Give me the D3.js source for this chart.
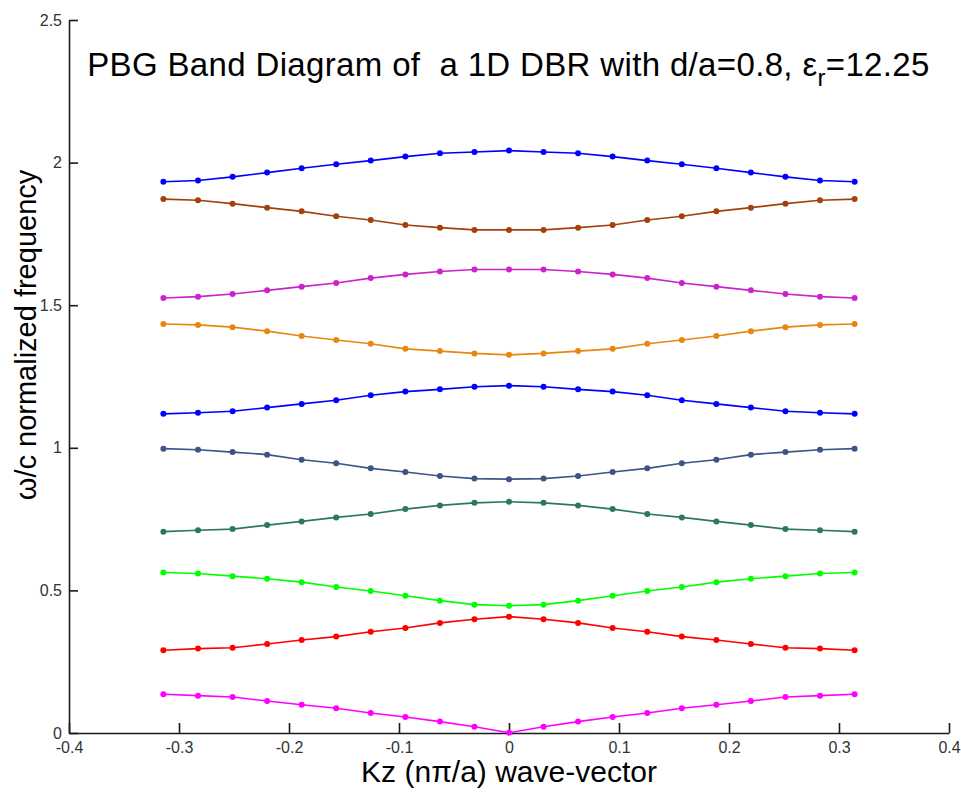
<!DOCTYPE html>
<html>
<head>
<meta charset="utf-8">
<script src="https://cdn.jsdelivr.net/npm/d3@7"></script>
<style>
html,body{margin:0;padding:0;background:#fff;}
svg{display:block;font-family:"Liberation Sans",Arial,sans-serif;}
</style>
</head>
<body>
<svg id="chart" width="961" height="793"></svg>
<script>
const kz = [-0.3142,-0.2827,-0.2513,-0.2199,-0.1885,-0.1571,-0.1257,-0.0942,-0.0628,-0.0314,0,
             0.0314,0.0628,0.0942,0.1257,0.1571,0.1885,0.2199,0.2513,0.2827,0.3142];

const band1  = [0.136,0.131,0.126,0.112,0.099,0.087,0.070,0.056,0.040,0.022,0.001,0.022,0.040,0.056,0.070,0.087,0.099,0.112,0.126,0.131,0.136];
const band2  = [0.290,0.296,0.299,0.312,0.326,0.338,0.355,0.368,0.386,0.399,0.408,0.399,0.386,0.368,0.355,0.338,0.326,0.312,0.299,0.296,0.290];
const band3  = [0.563,0.559,0.550,0.541,0.529,0.512,0.498,0.481,0.464,0.450,0.446,0.450,0.464,0.481,0.498,0.512,0.529,0.541,0.550,0.559,0.563];
const band4  = [0.706,0.711,0.715,0.729,0.742,0.756,0.768,0.785,0.798,0.807,0.811,0.807,0.798,0.785,0.768,0.756,0.742,0.729,0.715,0.711,0.706];
const band5  = [0.997,0.993,0.985,0.976,0.958,0.946,0.928,0.915,0.901,0.892,0.890,0.892,0.901,0.915,0.928,0.946,0.958,0.976,0.985,0.993,0.997];
const band6  = [1.119,1.123,1.128,1.141,1.154,1.167,1.184,1.197,1.205,1.214,1.218,1.214,1.205,1.197,1.184,1.167,1.154,1.141,1.128,1.123,1.119];
const band7  = [1.434,1.431,1.423,1.409,1.392,1.378,1.365,1.347,1.339,1.331,1.326,1.331,1.339,1.347,1.365,1.378,1.392,1.409,1.423,1.431,1.434];
const band8  = [1.525,1.530,1.539,1.552,1.565,1.578,1.595,1.608,1.618,1.625,1.625,1.625,1.618,1.608,1.595,1.578,1.565,1.552,1.539,1.530,1.525];
const band9  = [1.872,1.868,1.856,1.842,1.829,1.812,1.799,1.781,1.772,1.764,1.764,1.764,1.772,1.781,1.799,1.812,1.829,1.842,1.856,1.868,1.872];
const band10 = [1.933,1.937,1.950,1.965,1.980,1.994,2.007,2.021,2.033,2.037,2.042,2.037,2.033,2.021,2.007,1.994,1.980,1.965,1.950,1.937,1.933];

const bands = [band1,band2,band3,band4,band5,band6,band7,band8,band9,band10];
const colors = ["#ff00ff","#ff0000","#00ff00","#2a7a55","#3b5586","#0000ff","#e8870f","#cc22cc","#a3400c","#0000ff"];

const xTicks = [-0.4,-0.3,-0.2,-0.1,0,0.1,0.2,0.3,0.4];
const yTicks = [0,0.5,1,1.5,2,2.5];

const titleText = "PBG Band Diagram of  a 1D DBR with d/a=0.8, ";
const xLabel = "Kz (nπ/a) wave-vector";
const yLabel = "ω/c normalized frequency";

(function(){
const svg = d3.select("#chart");
const mLeft = 69, mRight = 949, mTop = 20, mBottom = 733;

const x = d3.scaleLinear().domain([-0.4,0.4]).range([mLeft,mRight]);
const y = d3.scaleLinear().domain([0,2.5]).range([mBottom,mTop]);

const fmt = d => (d===0 ? "0" : String(d));

const gx = svg.append("g").attr("transform",`translate(0,${mBottom})`)
  .call(d3.axisBottom(x).tickValues(xTicks).tickFormat(fmt).tickSizeInner(-10).tickSizeOuter(0).tickPadding(9));
const gy = svg.append("g").attr("transform",`translate(${mLeft},0)`)
  .call(d3.axisLeft(y).tickValues(yTicks).tickFormat(fmt).tickSizeInner(-9).tickSizeOuter(0).tickPadding(7));

[gx,gy].forEach(g=>{
  g.attr("font-size",16).attr("font-family","'Liberation Sans',Arial,sans-serif");
  g.select(".domain").attr("stroke","#1a1a1a").attr("stroke-width",1.6);
  g.selectAll(".tick line").attr("stroke","#1a1a1a").attr("stroke-width",1.6);
  g.selectAll(".tick text").attr("fill","#333");
});

const line = d3.line().x((d,i)=>x(kz[i])).y(d=>y(d));

bands.forEach((b,bi)=>{
  svg.append("path").datum(b).attr("d",line)
    .attr("fill","none").attr("stroke",colors[bi]).attr("stroke-width",1.6);
  svg.append("g").selectAll("circle").data(b).join("circle")
    .attr("cx",(d,i)=>x(kz[i])).attr("cy",d=>y(d)).attr("r",3)
    .attr("fill",colors[bi]);
});

const t = svg.append("text").attr("x",508.5).attr("y",76)
  .attr("text-anchor","middle").style("font-size","33px")
  .style("letter-spacing","0.35px").style("white-space","pre").attr("fill","#000");
t.append("tspan").text(titleText);
t.append("tspan").text("ε");
t.append("tspan").attr("dy",10).style("font-size","24px").text("r");
t.append("tspan").attr("dy",-10).text("=12.25");

svg.append("text").attr("x",x(0)).attr("y",782).attr("text-anchor","middle")
  .style("font-size","30px").attr("fill","#000").text(xLabel);
svg.append("text").attr("transform",`translate(36,335) rotate(-90)`)
  .attr("text-anchor","middle").style("font-size","29px").attr("fill","#000").text(yLabel);
})();
</script>
</body>
</html>
